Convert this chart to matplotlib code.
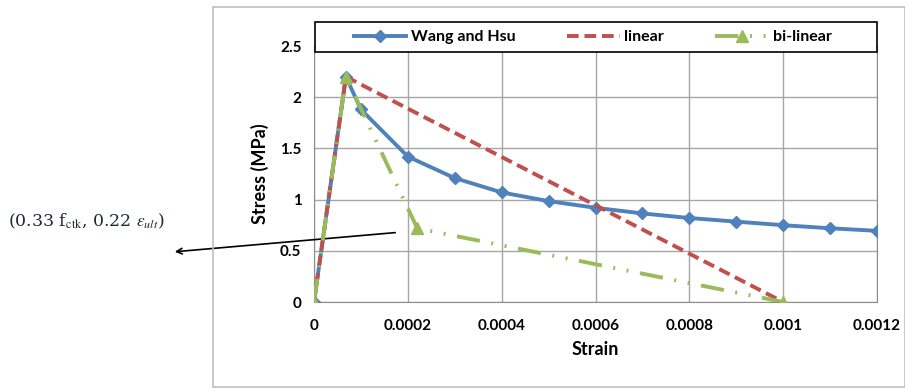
import matplotlib.pyplot as plt
from matplotlib.patches import Rectangle

# strain / stress values
wang_strain = [0, 0.000068, 0.0001, 0.0002, 0.0003, 0.0004, 0.0005, 0.0006,
               0.0007, 0.0008, 0.0009, 0.001, 0.0011, 0.0012]
wang_stress = [0, 2.2, 1.88, 1.42, 1.21, 1.07, 0.985, 0.92,
               0.865, 0.82, 0.785, 0.75, 0.72, 0.695]
lin_strain = [0, 0.000068, 0.001]
lin_stress = [0, 2.2, 0]
bil_strain = [0, 0.000068, 0.00022, 0.001]
bil_stress = [0, 2.2, 0.72, 0]

xticks = [0, 0.0002, 0.0004, 0.0006, 0.0008, 0.001, 0.0012]
xlabels = ['0', '0.0002', '0.0004', '0.0006', '0.0008', '0.001', '0.0012']
yticks = [0, 0.5, 1, 1.5, 2, 2.5]
ylabels = ['0', '0.5', '1', '1.5', '2', '2.5']

plt.rcParams['font.family'] = ['Lato', 'DejaVu Sans']
plt.rcParams['mathtext.fontset'] = 'stix'

fig = plt.figure(figsize=(9.05, 3.89), dpi=100)
W, H = 905, 389
# chart frame
fig.patches.append(Rectangle((213 / W, 2 / H), (W - 213) / W, 380 / H, transform=fig.transFigure,
                             fill=False, edgecolor='#bfbfbf', lw=1.2))

ax = fig.add_axes([314 / W, 1 - 302 / H, (877 - 314) / W, (302 - 46) / H])
ax.plot(wang_strain, wang_stress, color='#4f81bd', lw=2.8, marker='D', ms=6.5,
        label='Wang and Hsu', zorder=3)
ax.plot(lin_strain, lin_stress, color='#c0504d', lw=2.8, ls=(0, (3, 1.5)),
        label='linear', zorder=4)
ax.plot(bil_strain, bil_stress, color='#9bbb59', lw=2.8, ls=(0, (6, 3, 0.5, 3, 0.5, 3)),
        marker='^', ms=9, label='bi-linear', zorder=5)

ax.set_xlim(0, 0.0012)
ax.set_ylim(0, 2.5)
ax.set_xticks(xticks)
ax.set_xticklabels(xlabels, fontweight='bold', fontsize=11)
ax.set_yticks(yticks)
ax.set_yticklabels(ylabels, fontweight='bold', fontsize=11)
ax.tick_params(length=0, pad=12)
ax.tick_params(axis='y', pad=9)
ax.grid(True, color='#a6a6a6', lw=1)
for s in ax.spines.values():
    s.set_color('#8c8c8c')
ax.set_xlabel('Strain', fontweight='bold', fontsize=13, labelpad=6)
ax.set_ylabel('Stress (MPa)', fontweight='bold', fontsize=13, labelpad=8)

# legend box
ax.add_patch(Rectangle((0.002, 0.977), 0.998, 0.117, transform=ax.transAxes, facecolor='white',
                       edgecolor='black', lw=1.2, clip_on=False, zorder=9))
leg = ax.legend(loc='center', bbox_to_anchor=(0.495, 1.035), ncol=3, frameon=False,
                prop={'weight': 'bold', 'size': 11.5}, handlelength=3.3, borderaxespad=0,
                columnspacing=3.2, handletextpad=0.3)
leg.set_zorder(10)

ax.annotate('', xy=(172 / W, 1 - 252 / H), xycoords='figure fraction',
            xytext=(0.000179, 0.68), textcoords='data',
            arrowprops=dict(arrowstyle='->', color='black', lw=1.2), annotation_clip=False)
fig.text(8 / W, 1 - 221 / H, r'(0.33 f$_{\rm ctk}$, 0.22 $\epsilon_{ult}$)', family='DejaVu Serif',
         fontsize=12.5, color='#1f2a3a', va='center')

fig.savefig('out.png', dpi=100)
